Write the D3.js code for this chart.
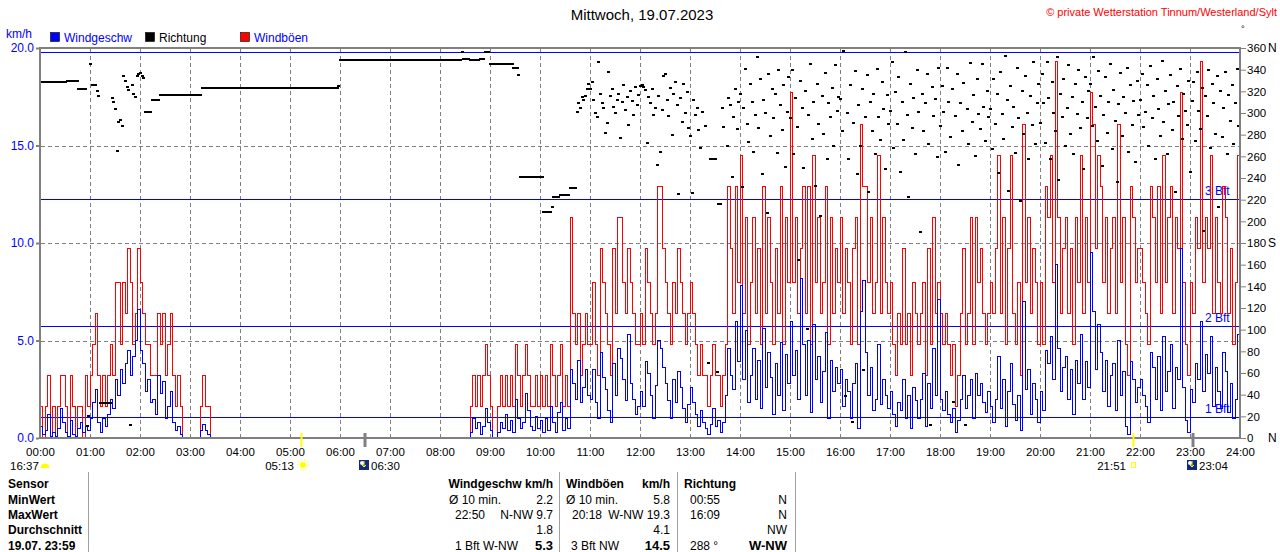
<!DOCTYPE html>
<html>
<head>
<meta charset="utf-8">
<script src="https://cdn.jsdelivr.net/npm/d3@7"></script>
<style>
  body { margin: 0; background: #fff; }
  text { font-family: "Liberation Sans", Arial, sans-serif; font-size: 12px; }
</style>
</head>
<body>
<script>

var step = 3;    // minutes between speed / gust samples
var dirStep = 2; // minutes between direction samples

// gusts km/h, one row per hour (20 samples)
var gust = [
  1.6,0,1.6,3.2,0,1.6,0,1.6,3.2,3.2,1.6,0,3.2,1.6,0,1.6,1.6,0,3.2,1.6,
  3.2,4.8,6.4,3.2,1.6,3.2,1.6,3.2,4.8,3.2,8.0,8.0,4.8,8.0,6.4,9.7,8.0,4.8,6.4,9.7,
  8.0,6.4,4.8,4.8,3.2,3.2,3.2,6.4,4.8,6.4,3.2,4.8,6.4,3.2,1.6,3.2,1.6,0,0,0,
  0,0,0,0,1.6,3.2,1.6,1.6,0,0,0,0,0,0,0,0,0,0,0,0,
  0,0,0,0,0,0,0,0,0,0,0,0,0,0,0,0,0,0,0,0,
  0,0,0,0,0,0,0,0,0,0,0,0,0,0,0,0,0,0,0,0,
  0,0,0,0,0,0,0,0,0,0,0,0,0,0,0,0,0,0,0,0,
  0,0,0,0,0,0,0,0,0,0,0,0,0,0,0,0,0,0,0,0,
  0,0,0,0,0,0,0,0,0,0,0,0,1.6,3.2,1.6,3.2,1.6,3.2,4.8,3.2,
  1.6,0,0,1.6,3.2,1.6,3.2,1.6,3.2,1.6,4.8,3.2,1.6,3.2,4.8,3.2,1.6,1.6,3.2,1.6,
  3.2,1.6,3.2,1.6,4.8,3.2,1.6,3.2,4.8,1.6,3.2,1.6,11.3,6.4,4.8,6.4,3.2,4.8,6.4,4.8,
  4.8,8.0,4.8,3.2,9.7,8.0,6.4,4.8,3.2,9.7,6.4,11.3,11.3,8.0,6.4,9.7,8.0,6.4,4.8,4.8,
  6.4,4.8,9.7,8.0,6.4,4.8,6.4,12.9,12.9,9.7,8.0,6.4,4.8,8.0,6.4,9.7,8.0,6.4,4.8,6.4,
  8.0,6.4,4.8,3.2,4.8,3.2,3.2,1.6,3.2,4.8,3.2,3.2,1.6,3.2,4.8,12.9,9.7,6.4,12.9,8.0,
  14.5,6.4,11.3,4.8,8.0,11.3,6.4,9.7,4.8,12.9,6.4,11.3,8.0,4.8,9.7,6.4,12.9,4.8,11.3,8.0,
  17.7,8.0,11.3,6.4,9.7,12.9,6.4,12.9,4.8,14.5,8.0,11.3,6.4,8.0,12.9,4.8,11.3,6.4,9.7,8.0,
  11.3,6.4,9.7,8.0,4.8,9.7,11.3,4.8,16.1,12.9,12.9,8.0,11.3,6.4,8.0,14.5,6.4,11.3,8.0,6.4,
  8.0,4.8,3.2,6.4,4.8,9.7,4.8,6.4,3.2,8.0,6.4,4.8,6.4,8.0,3.2,9.7,4.8,11.3,6.4,8.0,
  6.4,4.8,6.4,4.8,3.2,4.8,1.6,3.2,6.4,9.7,4.8,6.4,11.3,4.8,11.3,8.0,9.7,6.4,4.8,6.4,
  8.0,6.4,9.7,14.5,6.4,11.3,4.8,9.7,14.5,6.4,4.8,8.0,3.2,16.1,8.0,11.3,6.4,9.7,8.0,4.8,
  8.0,4.8,12.9,11.3,14.5,8.0,19.3,11.3,6.4,9.7,11.3,6.4,9.7,4.8,11.3,8.0,14.5,6.4,11.3,8.0,
  17.7,16.1,9.7,14.5,12.9,8.0,11.3,6.4,9.7,11.3,6.4,16.1,8.0,11.3,4.8,3.2,12.9,11.3,8.0,9.7,
  9.7,8.0,6.4,4.8,12.9,11.3,8.0,12.9,6.4,14.5,8.0,11.3,12.9,6.4,11.3,9.7,17.7,8.0,4.8,3.2,
  8.0,6.4,11.3,9.7,19.3,8.0,11.3,9.7,14.5,6.4,11.3,8.0,6.4,12.9,11.3,6.4,9.7,4.8,8.0,14.5
];

// wind speed km/h
var speed = [
  0.6,0.2,0.4,1.2,0.1,0.3,0.1,0.5,1.5,0.8,0.3,0.1,0.9,0.2,0.1,0.5,0.8,0.3,0.6,0.4,
  1.0,1.8,2.5,0.8,0.3,1.0,0.6,1.2,2.0,1.5,3.0,2.2,3.5,2.8,3.8,4.5,3.2,4.2,5.0,6.6,
  4.5,3.8,2.4,3.0,1.8,2.0,1.2,3.2,2.3,2.9,1.0,1.6,2.4,0.8,0.4,0.6,0.2,0,0,0,
  0,0,0,0,0.4,0.7,0.4,0.2,0,0,0,0,0,0,0,0,0,0,0,0,
  0,0,0,0,0,0,0,0,0,0,0,0,0,0,0,0,0,0,0,0,
  0,0,0,0,0,0,0,0,0,0,0,0,0,0,0,0,0,0,0,0,
  0,0,0,0,0,0,0,0,0,0,0,0,0,0,0,0,0,0,0,0,
  0,0,0,0,0,0,0,0,0,0,0,0,0,0,0,0,0,0,0,0,
  0,0,0,0,0,0,0,0,0,0,0,0,0.3,1.0,0.5,0.8,0.2,0.6,1.5,0.8,
  0.4,0,0,0.3,0.8,0.5,1.2,0.4,0.9,0.3,2.0,1.0,0.5,0.8,2.3,1.4,0.6,0.4,1.1,0.5,
  0.9,0.3,1.0,0.4,1.6,0.8,0.3,1.3,1.8,0.4,1.0,0.5,3.5,2.8,2.0,4.0,1.8,2.6,3.5,2.2,
  2.0,3.5,1.8,1.0,4.4,3.1,2.5,1.4,0.8,3.8,2.2,4.6,4.1,3.0,1.9,5.3,2.8,2.0,1.2,1.6,
  2.4,1.6,3.9,3.3,2.2,1.0,2.7,5.0,4.6,3.6,2.8,1.9,1.0,3.0,1.8,3.4,2.6,1.5,0.8,1.7,
  2.6,1.8,1.2,0.6,1.4,0.8,0.5,0.2,0.7,1.5,0.6,0.9,0.3,0.8,2.2,4.6,3.2,2.5,6.0,3.9,
  7.8,3.0,5.5,1.8,3.2,4.6,2.0,4.0,1.5,5.6,2.6,4.4,3.1,1.2,3.8,2.2,4.9,1.4,4.3,2.8,
  6.0,3.2,4.5,2.0,8.2,4.8,2.2,5.0,1.3,5.8,3.0,4.2,1.8,3.4,5.4,1.0,4.0,2.4,3.6,2.8,
  3.5,1.6,3.0,2.4,1.0,2.8,3.8,0.5,6.5,8.1,4.4,2.2,3.6,1.4,2.0,4.8,1.7,3.0,2.2,1.5,
  2.4,1.2,0.6,1.8,1.4,3.0,1.0,2.2,0.5,2.6,1.9,1.0,2.0,3.3,0.6,2.8,1.5,4.6,2.2,7.1,
  2.0,1.4,2.4,1.2,0.8,1.5,0.3,0.9,2.0,3.2,1.5,2.2,3.0,1.0,3.3,2.2,2.8,1.8,1.3,2.4,
  1.6,0.8,2.0,4.2,1.5,3.0,0.6,2.4,3.8,1.7,0.9,2.2,0.4,7.0,2.5,3.5,1.2,2.8,2.0,0.8,
  2.4,1.4,4.5,3.8,5.2,3.0,8.9,4.6,2.4,3.6,4.2,2.0,3.5,1.2,4.0,2.8,5.3,2.0,3.9,2.6,
  9.5,6.5,3.5,5.8,4.4,2.4,4.0,1.6,3.2,3.8,1.4,5.0,2.2,3.4,0.6,0.2,3.9,3.0,1.8,2.6,
  3.0,2.2,1.6,0.8,4.4,3.6,2.0,4.2,1.4,5.2,2.4,3.4,4.8,1.5,3.6,3.0,9.7,2.6,0.9,0.3,
  2.5,1.8,3.8,3.0,6.0,2.4,4.3,3.3,5.2,1.6,3.6,2.4,1.5,4.4,3.4,1.3,2.8,1.0,2.0,5.3
];

// wind direction degrees, one row per hour (30 samples), null = no reading
var direction = [
  329,329,329,329,329,329,329,329,329,329,329,329,329,329,329,329,330,330,330,330,330,330,330,322,322,322,322,322,11,20,
  345,326,326,326,320,316,32,32,32,32,32,32,32,314,310,304,265,292,294,288,334,330,324,321,12,326,318,315,334,336,
  337,334,332,301,301,301,301,312,312,312,312,312,317,317,317,317,317,317,317,317,317,317,317,317,317,317,317,317,317,317,
  317,317,317,317,317,317,317,323,323,323,323,323,323,323,323,323,323,323,323,323,323,323,323,323,323,323,323,323,323,323,
  323,323,323,323,323,323,323,323,323,323,323,323,323,323,323,323,323,323,323,323,323,323,323,323,323,323,323,323,323,323,
  323,323,323,323,323,323,323,323,323,323,323,323,323,323,323,323,323,323,323,323,323,323,323,323,323,323,323,323,323,325,
  349,349,349,349,349,349,349,349,349,349,349,349,349,349,349,349,349,349,349,349,349,349,349,349,349,349,349,349,349,349,
  349,349,349,349,349,349,349,349,349,349,349,349,349,349,349,349,349,349,349,349,349,349,349,349,349,349,349,349,349,349,
  349,349,349,349,349,349,349,349,349,349,349,349,349,356,350,350,350,350,349,349,349,349,349,349,350,350,350,356,356,356,
  345,345,345,345,345,345,345,345,345,345,345,345,345,345,342,342,342,335,241,241,241,241,241,241,241,241,241,241,241,241,
  241,241,209,209,209,209,209,213,222,222,222,222,224,224,224,224,224,224,231,231,231,231,301,309,305,315,312,316,322,327,
  322,329,312,300,296,347,318,309,305,282,291,338,316,322,306,300,312,318,277,310,326,303,315,289,320,311,298,324,307,317,
  325,326,324,321,272,315,309,322,298,305,252,316,264,303,334,336,312,297,323,280,318,329,307,225,314,292,327,300,319,286,
  279,226,312,298,305,284,268,301,null,288,null,69,258,258,258,258,61,216,216,305,287,null,270,314,307,241,296,322,285,310,
  318,232,305,341,290,273,327,310,264,298,352,286,331,244,312,300,208,336,279,322,295,318,263,340,307,284,326,250,301,333,
  295,340,262,314,287,164,330,305,249,320,101,298,345,276,310,233,327,290,205,316,281,337,258,309,296,323,270,344,302,315,
  313,283,357,39,300,258,326,15,291,339,244,307,270,322,63,296,335,227,310,283,318,262,341,296,275,329,304,248,317,290,
  302,347,268,319,290,333,246,310,275,356,298,222,327,286,314,262,340,301,190,318,283,309,336,271,12,324,297,313,259,342,
  288,325,301,264,342,310,278,322,33,297,336,252,309,283,328,12,304,271,346,292,317,260,331,299,285,345,306,274,320,296,
  304,267,331,290,318,245,338,299,276,353,312,228,325,287,306,263,342,295,219,320,281,334,300,258,316,289,347,271,309,327,
  291,336,309,272,347,314,258,329,300,283,352,238,318,296,331,270,305,344,281,315,262,327,299,340,286,310,248,333,295,320,
  327,288,352,306,274,339,316,251,298,333,282,310,345,267,321,293,236,308,337,279,315,300,342,264,326,289,311,255,330,298,
  312,336,287,301,326,270,343,295,316,258,331,304,279,348,292,320,262,308,335,284,310,227,325,297,341,276,318,302,289,330,
  246,311,329,274,338,302,285,323,191,316,297,340,268,327,309,281,334,213,320,278,305,338,262,317,293,326,271,309,341,288
];

var leftTicks = [0, 5, 10, 15, 20];
var dirTicks = d3.range(0, 361, 20);
var compass = [[0, 'N'], [180, 'S'], [360, 'N']];
var hourTicks = d3.range(0, 25);
var bftLevels = [1.08, 5.76, 12.24, 19.8];
var bftNames = ['1 Bft', '2 Bft', '3 Bft', ''];
var sunEvents = [['05:13', 'rise'], ['21:51', 'set']];
var moonEvents = ['06:30', '23:04'];
var dayLength = '16:37';

var rowNames = ['Sensor', 'MinWert', 'MaxWert', 'Durchschnitt', '19.07. 23:59'];
var speedCells = [['', 'Windgeschw km/h'], ['Ø 10 min.', '2.2'], ['22:50', 'N-NW 9.7'], ['', '1.8'], ['1 Bft W-NW', '5.3']];
var gustCells = [['Windböen', 'km/h'], ['Ø 10 min.', '5.8'], ['20:18', 'W-NW 19.3'], ['', '4.1'], ['3 Bft NW', '14.5']];
var dirCells = [['Richtung', ''], ['00:55', 'N'], ['16:09', 'N'], ['', 'NW'], ['288 °', 'W-NW']];

var svg = d3.select('body').append('svg').attr('width', 1280).attr('height', 552);

var x = d3.scaleLinear().domain([0, 1440]).range([40, 1240]);
var y = d3.scaleLinear().domain([0, 20]).range([438, 48]);
var yDir = d3.scaleLinear().domain([0, 360]).range([438, 48]);
function px(v) { return Math.round(v) + 0.5; }
function toMin(s) { var p = s.split(':'); return +p[0] * 60 + +p[1]; }

// header
svg.append('text').attr('x', 642).attr('y', 20).attr('text-anchor', 'middle')
   .style('font-size', '15px').text('Mittwoch, 19.07.2023');
svg.append('text').attr('x', 1277).attr('y', 16).attr('text-anchor', 'end')
   .attr('fill', '#ff0000').style('font-size', '11px')
   .text('© private Wetterstation Tinnum/Westerland/Sylt');
svg.append('text').attr('x', 1241).attr('y', 32).style('font-size', '9px').text('°');
svg.append('text').attr('x', 6).attr('y', 38).attr('fill', '#0000ff').text('km/h');

var legend = [['Windgeschw', '#0000ff', '#0000ff', 50], ['Richtung', '#000000', '#000000', 145], ['Windböen', '#ff0000', '#0000ff', 240]];
legend.forEach(function (l) {
  svg.append('rect').attr('x', l[3] + 0.5).attr('y', 32.5).attr('width', 9).attr('height', 9)
     .attr('fill', l[1]).attr('stroke', '#000').attr('stroke-width', 0.6);
  svg.append('text').attr('x', l[3] + 14).attr('y', 42).attr('fill', l[2]).text(l[0]);
});

// grid
svg.append('g').selectAll('line').data(hourTicks.slice(1, 24)).enter().append('line')
   .attr('x1', function (d) { return px(x(d * 60)); }).attr('x2', function (d) { return px(x(d * 60)); })
   .attr('y1', 49).attr('y2', 437)
   .attr('stroke', '#808080').attr('stroke-dasharray', '4,3');
svg.append('g').selectAll('line').data([5, 10, 15]).enter().append('line')
   .attr('x1', 41).attr('x2', 1240)
   .attr('y1', function (d) { return px(y(d)); }).attr('y2', function (d) { return px(y(d)); })
   .attr('stroke', '#808080').attr('stroke-dasharray', '4,3');

// beaufort lines
svg.append('g').selectAll('line').data(bftLevels).enter().append('line')
   .attr('x1', 41).attr('x2', 1240)
   .attr('y1', function (d) { return px(y(d)); }).attr('y2', function (d) { return px(y(d)); })
   .attr('stroke', '#0000ff').attr('shape-rendering', 'crispEdges');
svg.append('g').selectAll('text').data(bftLevels).enter().append('text')
   .attr('x', 1205).attr('y', function (d) { return y(d) - 4; })
   .attr('fill', '#0000ff').text(function (d, i) { return bftNames[i]; });

// series
function points(arr) {
  var pts = arr.map(function (v, i) { return [i * step, v]; });
  pts.push([1440, arr[arr.length - 1]]);
  return pts;
}
var line = d3.line()
  .x(function (d) { return x(d[0]); })
  .y(function (d) { return y(d[1]); })
  .curve(d3.curveStepAfter);

svg.append('path').datum(points(gust)).attr('d', line)
   .attr('fill', 'none').attr('stroke', '#ff0000').attr('stroke-width', 1)
   .attr('shape-rendering', 'crispEdges');
svg.append('path').datum(points(speed)).attr('d', line)
   .attr('fill', 'none').attr('stroke', '#0000ff').attr('stroke-width', 1)
   .attr('shape-rendering', 'crispEdges');

var dirPts = direction.map(function (v, i) { return [i * dirStep, v]; })
  .filter(function (d) { return d[1] !== null; });
svg.append('g').selectAll('rect').data(dirPts).enter().append('rect')
   .attr('x', function (d) { return Math.round(x(d[0])) - 1; })
   .attr('y', function (d) { return Math.round(yDir(d[1])) - 1; })
   .attr('width', 3).attr('height', 2).attr('fill', '#000');

// frame
var frame = svg.append('g').attr('stroke', '#808080').attr('stroke-width', 2);
frame.append('line').attr('x1', 39).attr('x2', 1241).attr('y1', 48).attr('y2', 48);
frame.append('line').attr('x1', 39).attr('x2', 1241).attr('y1', 438).attr('y2', 438);
frame.append('line').attr('x1', 40).attr('x2', 40).attr('y1', 47).attr('y2', 439);
frame.append('line').attr('x1', 1240).attr('x2', 1240).attr('y1', 47).attr('y2', 439);

// axes
var gl = svg.append('g').attr('transform', 'translate(39,0)')
  .call(d3.axisLeft(y).tickValues(leftTicks).tickFormat(d3.format('.1f')).tickSize(3).tickPadding(2));
gl.select('.domain').remove();
gl.selectAll('line').attr('stroke', '#808080').attr('stroke-width', 2);
gl.selectAll('text').attr('fill', '#0000ff').style('font-size', '12px');

var gr = svg.append('g').attr('transform', 'translate(1241,0)')
  .call(d3.axisRight(yDir).tickValues(dirTicks).tickSize(5).tickPadding(1));
gr.select('.domain').remove();
gr.selectAll('line').attr('stroke', '#808080');
gr.selectAll('text').attr('fill', '#000').style('font-size', '11.5px');
svg.append('g').selectAll('text').data(compass).enter().append('text')
   .attr('x', 1268).attr('y', function (d) { return yDir(d[0]) + 4; }).text(function (d) { return d[1]; });

var gb = svg.append('g').attr('transform', 'translate(0,438)')
  .call(d3.axisBottom(x).tickValues(hourTicks.map(function (h) { return h * 60; }))
    .tickFormat(function (d) { var h = d / 60; return (h < 10 ? '0' : '') + h + ':00'; })
    .tickSize(0).tickPadding(10));
gb.select('.domain').remove();
gb.selectAll('text').attr('fill', '#000').style('font-size', '11.5px');

// sun and moon markers
var markY = 470;
svg.append('text').attr('x', 10).attr('y', markY).style('font-size', '11.5px').text(dayLength);
svg.append('path').attr('d', d3.arc()({ innerRadius: 0, outerRadius: 4.5, startAngle: -Math.PI / 2, endAngle: Math.PI / 2 }))
   .attr('transform', 'translate(45,468)').attr('fill', '#ffff00');

sunEvents.forEach(function (e) {
  var sx = Math.round(x(toMin(e[0])));
  svg.append('line').attr('x1', sx + 0.5).attr('x2', sx + 0.5).attr('y1', 433).attr('y2', 447)
     .attr('stroke', '#ffff00').attr('stroke-width', 2);
  svg.append('text').attr('x', sx - 7).attr('y', markY).attr('text-anchor', 'end')
     .style('font-size', '11.5px').text(e[0]);
  if (e[1] === 'rise') {
    svg.append('circle').attr('cx', sx + 2).attr('cy', 465).attr('r', 3).attr('fill', '#ffff00');
    svg.append('circle').attr('cx', sx + 2).attr('cy', 465).attr('r', 5)
       .attr('fill', 'none').attr('stroke', '#ffff00').attr('stroke-dasharray', '1.5,1.5');
  } else {
    svg.append('rect').attr('x', sx - 1.5).attr('y', 462.5).attr('width', 4).attr('height', 5)
       .attr('fill', 'none').attr('stroke', '#ffff00');
  }
});
moonEvents.forEach(function (t) {
  var mx = Math.round(x(toMin(t)));
  svg.append('line').attr('x1', mx).attr('x2', mx).attr('y1', 433).attr('y2', 447)
     .attr('stroke', '#808080').attr('stroke-width', 3);
  svg.append('rect').attr('x', mx - 6).attr('y', 460).attr('width', 10).attr('height', 10).attr('fill', '#102a80');
  svg.append('circle').attr('cx', mx - 3).attr('cy', 463).attr('r', 2).attr('fill', '#ffffff');
  svg.append('path').attr('d', 'M' + (mx - 1) + ',461 v6 l-2,-2 m2,2 l2,-2')
     .attr('stroke', '#ffff00').attr('fill', 'none');
  svg.append('text').attr('x', mx + 6).attr('y', markY).style('font-size', '11.5px').text(t);
});

// table
svg.append('g').selectAll('line').data([88, 559, 677, 795]).enter().append('line')
   .attr('x1', function (d) { return d + 0.5; }).attr('x2', function (d) { return d + 0.5; })
   .attr('y1', 472).attr('y2', 552).attr('stroke', '#a0a0a0');
var rowY = [488, 504, 519, 534, 550];
svg.append('g').selectAll('text').data(rowNames).enter().append('text')
   .attr('x', 8).attr('y', function (d, i) { return rowY[i]; })
   .style('font-weight', 'bold').text(function (d) { return d; });

function column(cells, leftX, rightX) {
  cells.forEach(function (c, i) {
    var bold = i === 0;
    if (c[0]) svg.append('text').attr('x', leftX[i]).attr('y', rowY[i])
      .style('font-weight', bold ? 'bold' : 'normal').text(c[0]);
    if (c[1]) svg.append('text').attr('x', rightX).attr('y', rowY[i]).attr('text-anchor', 'end')
      .style('font-weight', (bold || i === 4) ? 'bold' : 'normal')
      .style('font-size', i === 4 ? '13px' : '12px').text(c[1]);
  });
}
column(speedCells, [0, 449, 455, 0, 455], 553);
column(gustCells, [566, 566, 572, 0, 571], 670);
column(dirCells, [684, 690, 690, 0, 690], 787);

</script>
</body>
</html>
